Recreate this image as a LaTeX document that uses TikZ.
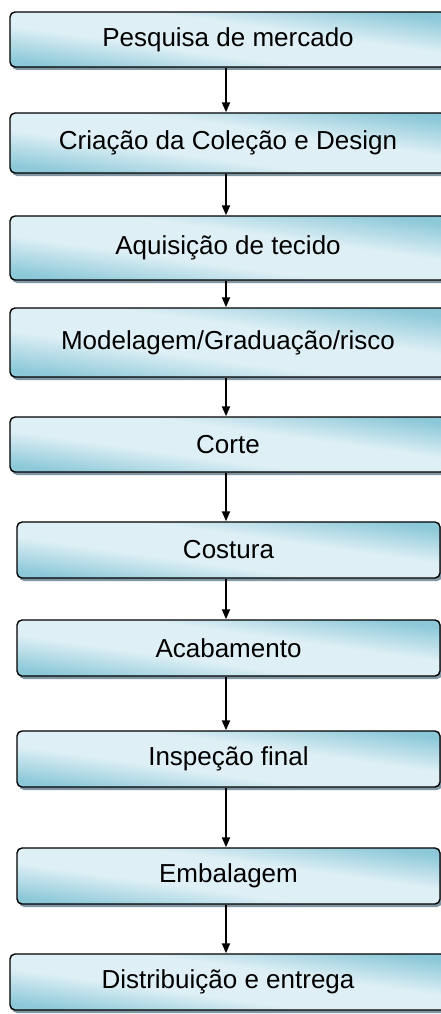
\documentclass[tikz,border=0pt]{standalone}
\usepackage{fontspec}
\setmainfont{Liberation Sans}
\usepackage{xcolor}
\usetikzlibrary{arrows.meta,shadows}

\definecolor{boxdark}{RGB}{140,200,216}
\definecolor{boxlight}{RGB}{222,239,245}
\definecolor{boxshadow}{RGB}{128,150,162}

\pgfdeclareverticalshading{faixa}{100bp}{color(0bp)=(boxdark); color(25bp)=(boxdark);
  color(42bp)=(boxlight); color(58bp)=(boxlight); color(75bp)=(boxdark); color(100bp)=(boxdark)}

\tikzset{
  etapa/.style={draw=black, line width=1.4pt, rounded corners=5pt,
    shade, shading=faixa, shading angle=-8,
    drop shadow={shadow xshift=2pt, shadow yshift=-3pt, fill=boxshadow, opacity=1},
    font=\fontsize{26}{30}\selectfont, inner sep=0pt},
  seta/.style={-{Triangle[length=10pt,width=8pt]}, line width=2pt}
}

\begin{document}
\begin{tikzpicture}[x=1pt,y=-1pt]
\useasboundingbox (0,0) rectangle (441,1014);
\clip (0,0) rectangle (441,1014);
\node[etapa, minimum width=436, minimum height=55] (b1) at (228,39.5) {Pesquisa de mercado};
\node[etapa, minimum width=436, minimum height=60] (b2) at (228,143) {Criação da Coleção e Design};
\node[etapa, minimum width=436, minimum height=64] (b3) at (228,248) {Aquisição de tecido};
\node[etapa, minimum width=436, minimum height=69] (b4) at (228,342.5) {Modelagem/Graduação/risco};
\node[etapa, minimum width=436, minimum height=55] (b5) at (228,444.5) {Corte};
\node[etapa, minimum width=423, minimum height=56] (b6) at (228.5,550) {Costura};
\node[etapa, minimum width=423, minimum height=56] (b7) at (228.5,648) {Acabamento};
\node[etapa, minimum width=423, minimum height=56] (b8) at (228.5,759) {Inspeção final};
\node[etapa, minimum width=423, minimum height=56] (b9) at (228.5,876) {Embalagem};
\node[etapa, minimum width=436, minimum height=56] (b10) at (228,982) {Distribuição e entrega};
\coordinate (eixo) at (226,0);
\draw[seta] (b1.south -| eixo) -- (b2.north -| eixo);
\draw[seta] (b2.south -| eixo) -- (b3.north -| eixo);
\draw[seta] (b3.south -| eixo) -- (b4.north -| eixo);
\draw[seta] (b4.south -| eixo) -- (b5.north -| eixo);
\draw[seta] (b5.south -| eixo) -- (b6.north -| eixo);
\draw[seta] (b6.south -| eixo) -- (b7.north -| eixo);
\draw[seta] (b7.south -| eixo) -- (b8.north -| eixo);
\draw[seta] (b8.south -| eixo) -- (b9.north -| eixo);
\draw[seta] (b9.south -| eixo) -- (b10.north -| eixo);
\end{tikzpicture}
\end{document}
